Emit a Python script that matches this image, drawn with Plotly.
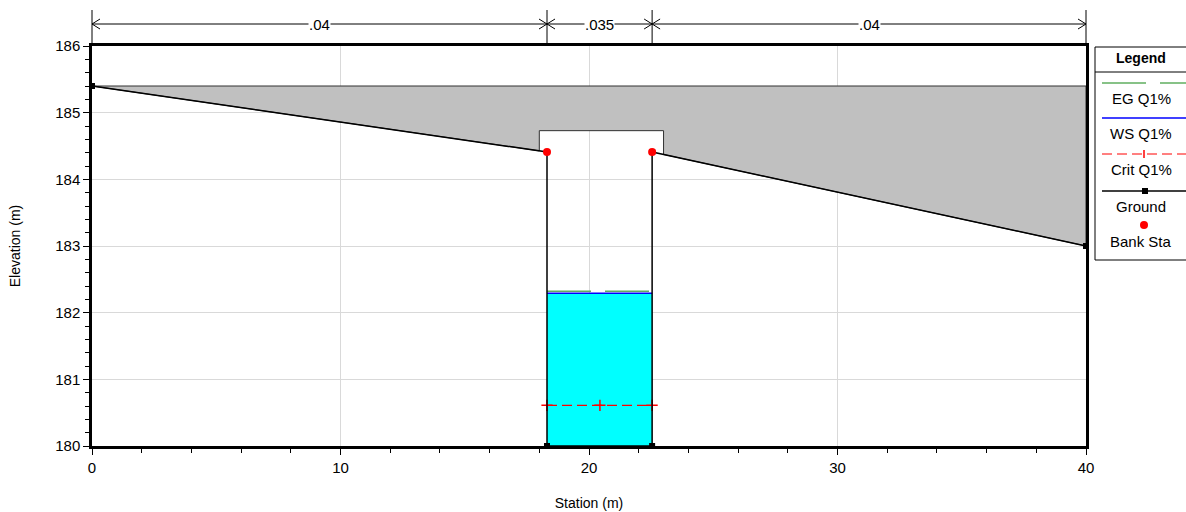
import plotly.graph_objects as go

# ---- data ----
ground_x = [0.0, 18.31, 18.31, 22.54, 22.54, 40.0]
ground_y = [185.40, 184.41, 180.0, 180.0, 184.41, 183.0]
bank_x = [18.31, 22.54]
bank_y = [184.41, 184.41]
deck_high = 185.40
low_chord = 184.73
opening_x = [18.0, 23.0]
ws_elev = 182.29
eg_elev = 182.32
crit_elev = 180.61
crit_x = [18.31, 20.44, 22.54]
mann_n = [".04", ".035", ".04"]
x_range = [0, 40]
y_range = [180, 186]
x_ticks = [0, 10, 20, 30, 40]
y_ticks = [180, 181, 182, 183, 184, 185, 186]
legend_names = ["EG Q1%", "WS Q1%", "Crit Q1%", "Ground", "Bank Sta"]


def ground_at(x):
    for i in range(len(ground_x) - 1):
        x0, x1 = ground_x[i], ground_x[i + 1]
        if x0 != x1 and x0 <= x <= x1:
            return ground_y[i] + (ground_y[i + 1] - ground_y[i]) * (x - x0) / (x1 - x0)
    return None


FONT = "Liberation Sans, Arial, sans-serif"
fig = go.Figure()

# deck polygon (grey)
g18 = ground_at(opening_x[0])
g23 = ground_at(opening_x[1])
deck_x = [ground_x[0], ground_x[-1], ground_x[-1], opening_x[1], opening_x[1],
          opening_x[0], opening_x[0], ground_x[0]]
deck_y = [deck_high, deck_high, ground_y[-1], g23, low_chord, low_chord, g18, ground_y[0]]
fig.add_trace(go.Scatter(x=deck_x, y=deck_y, fill="toself", fillcolor="#c0c0c0",
                         mode="lines", line=dict(color="#303030", width=1),
                         hoverinfo="skip", showlegend=False))

# water
fig.add_trace(go.Scatter(x=[bank_x[0], bank_x[1], bank_x[1], bank_x[0], bank_x[0]],
                         y=[180, 180, ws_elev, ws_elev, 180], fill="toself",
                         fillcolor="#00ffff", mode="lines", line=dict(width=0),
                         hoverinfo="skip", showlegend=False))

# EG
fig.add_trace(go.Scatter(x=bank_x, y=[eg_elev, eg_elev], mode="lines",
                         line=dict(color="#5fae5f", width=1.5, dash="44px,14px"),
                         name=legend_names[0], showlegend=False))
# WS
fig.add_trace(go.Scatter(x=bank_x, y=[ws_elev, ws_elev], mode="lines",
                         line=dict(color="#0000ff", width=1.5),
                         name=legend_names[1], showlegend=False))
# Crit
fig.add_trace(go.Scatter(x=crit_x, y=[crit_elev] * 3, mode="lines+markers",
                         line=dict(color="#ff0000", width=1.3, dash="10px,5px"),
                         marker=dict(symbol="cross-thin", size=8, line=dict(color="#ff0000", width=1.5)),
                         name=legend_names[2], showlegend=False))
# Ground
fig.add_trace(go.Scatter(x=ground_x, y=ground_y, mode="lines+markers",
                         line=dict(color="#000000", width=1.5),
                         marker=dict(symbol="square", size=6, color="#000000"),
                         name=legend_names[3], showlegend=False))
# Bank stations
fig.add_trace(go.Scatter(x=bank_x, y=bank_y, mode="markers",
                         marker=dict(symbol="circle", size=8, color="#ff0000"),
                         name=legend_names[4], showlegend=False))

shapes = []
annotations = []


def px_x(xv):
    return (xv - x_range[0]) / (x_range[1] - x_range[0])


# Manning's n dimension lines
dim_y = 1.055
breaks = [x_range[0]] + bank_x + [x_range[1]]
for b in breaks:
    shapes.append(dict(type="line", xref="paper", yref="paper", x0=px_x(b), x1=px_x(b),
                       y0=1.0, y1=1.09, line=dict(color="#000000", width=1)))
for i in range(len(breaks) - 1):
    a, b = px_x(breaks[i]), px_x(breaks[i + 1])
    shapes.append(dict(type="line", xref="paper", yref="paper", x0=a, x1=b,
                       y0=dim_y, y1=dim_y, line=dict(color="#000000", width=1)))
    ah = 8 / 994
    av = 5 / 400
    for (p, s) in [(a, 1), (b, -1)]:
        shapes.append(dict(type="line", xref="paper", yref="paper", x0=p, x1=p + s * ah,
                           y0=dim_y, y1=dim_y + av, line=dict(color="#000000", width=1)))
        shapes.append(dict(type="line", xref="paper", yref="paper", x0=p, x1=p + s * ah,
                           y0=dim_y, y1=dim_y - av, line=dict(color="#000000", width=1)))
    annotations.append(dict(xref="paper", yref="paper", x=(a + b) / 2, y=dim_y, text=mann_n[i],
                            showarrow=False, bgcolor="#ffffff", font=dict(size=15, color="#000"),
                            xanchor="center", yanchor="middle", borderpad=0))


# legend box (pixel helpers, page pixel -> paper)
def lx(p):
    return (p - 92) / 994


def ly(p):
    return (446 - p) / 400


shapes.append(dict(type="rect", xref="paper", yref="paper", x0=lx(1095), x1=lx(1190),
                   y0=ly(260), y1=ly(47), line=dict(color="#000", width=1), fillcolor="#fff",
                   layer="below"))
shapes.append(dict(type="line", xref="paper", yref="paper", x0=lx(1095), x1=lx(1190),
                   y0=ly(72), y1=ly(72), line=dict(color="#000", width=1)))
annotations.append(dict(xref="paper", yref="paper", x=lx(1141), y=ly(58), text="<b>Legend</b>",
                        showarrow=False, font=dict(size=14, color="#000"),
                        xanchor="center", yanchor="middle"))
L0, L1 = 1102, 1190
# EG
shapes.append(dict(type="line", xref="paper", yref="paper", x0=lx(L0), x1=lx(1146),
                   y0=ly(83), y1=ly(83), line=dict(color="#5fae5f", width=1.5)))
shapes.append(dict(type="line", xref="paper", yref="paper", x0=lx(1160), x1=lx(L1),
                   y0=ly(83), y1=ly(83), line=dict(color="#5fae5f", width=1.5)))
# WS
shapes.append(dict(type="line", xref="paper", yref="paper", x0=lx(L0), x1=lx(L1),
                   y0=ly(118), y1=ly(118), line=dict(color="#0000ff", width=1.5)))
# Crit
for s0 in range(L0, L1, 15):
    shapes.append(dict(type="line", xref="paper", yref="paper", x0=lx(s0), x1=lx(min(s0 + 10, L1)),
                       y0=ly(154), y1=ly(154), line=dict(color="#ff0000", width=1)))
shapes.append(dict(type="line", xref="paper", yref="paper", x0=lx(1144), x1=lx(1144),
                   y0=ly(150), y1=ly(158), line=dict(color="#ff0000", width=1.5)))
# Ground
shapes.append(dict(type="line", xref="paper", yref="paper", x0=lx(L0), x1=lx(L1),
                   y0=ly(191), y1=ly(191), line=dict(color="#000", width=1.5)))
shapes.append(dict(type="rect", xref="paper", yref="paper", x0=lx(1142), x1=lx(1148),
                   y0=ly(194), y1=ly(188), line=dict(width=0), fillcolor="#000"))
# Bank
shapes.append(dict(type="circle", xref="paper", yref="paper", x0=lx(1140), x1=lx(1148),
                   y0=ly(229), y1=ly(221), line=dict(width=0), fillcolor="#ff0000"))
for name, yy in zip(legend_names, [99, 133, 169, 206, 241]):
    annotations.append(dict(xref="paper", yref="paper", x=lx(1141), y=ly(yy), text=name,
                            showarrow=False, font=dict(size=15, color="#000"),
                            xanchor="center", yanchor="middle"))

fig.update_layout(
    width=1186, height=512,
    margin=dict(l=92, r=100, t=46, b=66),
    paper_bgcolor="#ffffff", plot_bgcolor="#ffffff",
    font=dict(family=FONT, size=15, color="#000"),
    showlegend=False,
    shapes=shapes, annotations=annotations,
    xaxis=dict(range=x_range, tickvals=x_ticks, showgrid=True, gridcolor="#d9d9d9", gridwidth=1,
               showline=True, linecolor="#000", linewidth=2.5, mirror=True,
               ticks="outside", ticklen=6, tickcolor="#000", tickwidth=1, automargin=False,
               minor=dict(dtick=2, ticks="outside", ticklen=4, tickcolor="#000", showgrid=False),
               zeroline=False, title=dict(text="Station (m)", font=dict(size=14), standoff=24)),
    yaxis=dict(range=y_range, tickvals=y_ticks, showgrid=True, gridcolor="#d9d9d9", gridwidth=1,
               showline=True, linecolor="#000", linewidth=2.5, mirror=True,
               ticks="outside", ticklen=6, tickcolor="#000", tickwidth=1, automargin=False,
               minor=dict(dtick=0.2, ticks="outside", ticklen=4, tickcolor="#000", showgrid=False),
               zeroline=False, title=dict(text="Elevation (m)", font=dict(size=14), standoff=32)),
)

fig.write_html("out.html", config={"displayModeBar": False},
               post_script="document.body.style.margin='0';document.body.style.overflow='hidden';")
